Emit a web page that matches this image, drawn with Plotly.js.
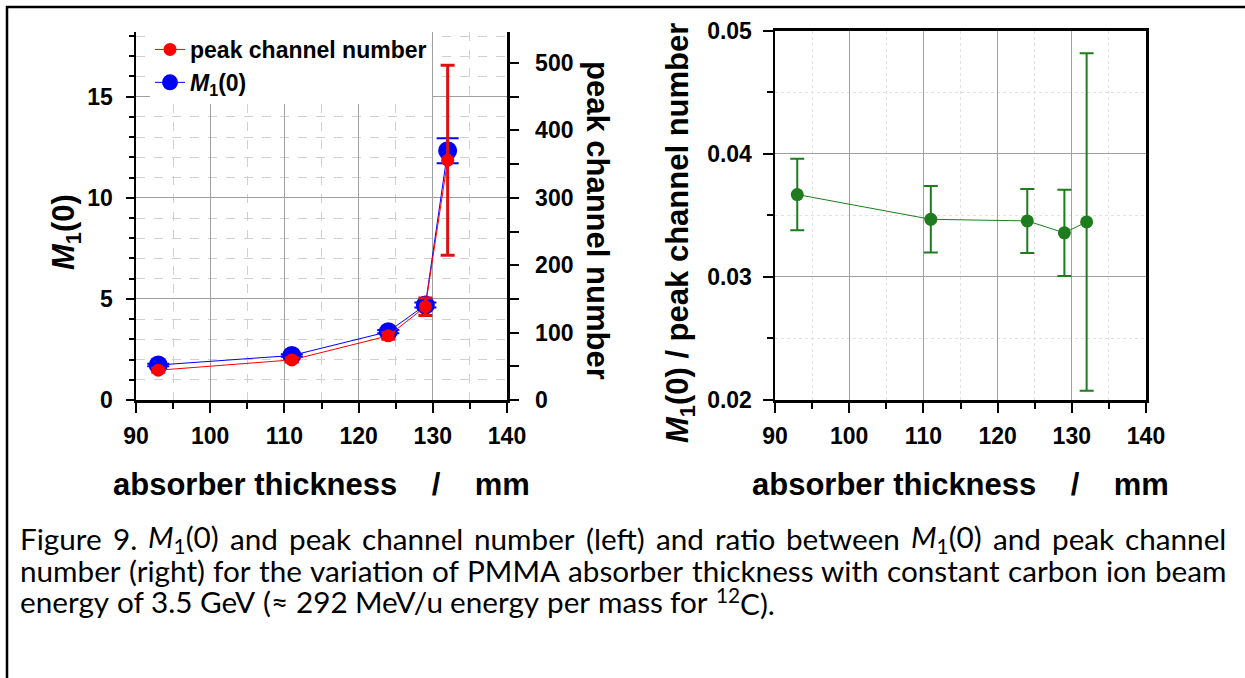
<!DOCTYPE html>
<html>
<head>
<meta charset="utf-8">
<script src="https://cdn.plot.ly/plotly-3.0.1.min.js"></script>
<style>html,body{margin:0;padding:0;background:#fff;}#chart{width:1245px;height:678px;}</style>
</head>
<body>
<div id="chart"></div>
<script>
// ---------- data ----------
const thickness = [93, 111, 124, 129, 132];               // absorber thickness / mm
const m1 = [1.73, 2.2, 3.38, 4.70, 12.33];                // M1(0), left axis
const m1Err = [0.06, 0.06, 0.08, 0.12, 0.62];
const peakChannel = [44.2, 59.5, 95.2, 138.4, 355.7];     // peak channel number, right axis
const peakErr = [3, 3, 5, 13, 141];
const ratio = [0.03668, 0.03467, 0.03454, 0.03357, 0.03446]; // M1(0)/peak channel number
const ratioErr = [0.0029, 0.0027, 0.0026, 0.0035, 0.0137];

const xTickVals = [90, 100, 110, 120, 130, 140];
const legendNames = ['peak channel number', '<i>M</i><sub>1</sub>(0)'];

const captionLines = [
  {words: ['Figure', '9.', '<i>M</i><sub>1</sub>(0)', 'and', 'peak', 'channel', 'number', '(left)', 'and', 'ratio', 'between', '<i>M</i><sub>1</sub>(0)', 'and', 'peak', 'channel'], justify: true},
  {words: ['number', '(right)', 'for', 'the', 'variation', 'of', 'PMMA', 'absorber', 'thickness', 'with', 'constant', 'carbon', 'ion', 'beam'], justify: true},
  {words: ['energy', 'of', '3.5', 'GeV', '(\u2248', '292', 'MeV/u', 'energy', 'per', 'mass', 'for', '<sup>12</sup>C).'], justify: false}
];

// ---------- layout helpers ----------
const W = 1245, H = 678;
const px = x => x / W;
const py = y => 1 - y / H;

const FONT = 'Liberation Sans';
const tickFont = {family: FONT, size: 23, color: '#000', weight: 'bold'};
const titleFont = {family: FONT, size: 31, color: '#000', weight: 'bold'};
const GREEN = '#1e7b1e';

const traces = [
  {
    x: thickness, y: peakChannel, xaxis: 'x', yaxis: 'y2', type: 'scatter', mode: 'lines+markers',
    name: legendNames[0],
    line: {color: '#ff0000', width: 1},
    marker: {color: '#ff0000', size: 13},
    error_y: {type: 'data', array: peakErr, visible: true, color: '#e01010', thickness: 3, width: 7}
  },
  {
    x: thickness, y: m1, xaxis: 'x', yaxis: 'y', type: 'scatter', mode: 'lines+markers',
    name: legendNames[1],
    line: {color: '#0000ff', width: 1},
    marker: {color: '#0000ff', size: 19},
    error_y: {type: 'data', array: m1Err, visible: true, color: '#0000ff', thickness: 2, width: 11}
  },
  {
    x: thickness, y: ratio, xaxis: 'x2', yaxis: 'y3', type: 'scatter', mode: 'lines+markers',
    showlegend: false,
    line: {color: GREEN, width: 1},
    marker: {color: GREEN, size: 13},
    error_y: {type: 'data', array: ratioErr, visible: true, color: GREEN, thickness: 2, width: 7}
  }
];

const baseX = {
  range: [90, 140], tickvals: xTickVals, ticks: 'outside', ticklen: 10, tickwidth: 2, tickcolor: '#000',
  showline: true, linecolor: '#000', linewidth: 2.5, zeroline: false,
  showgrid: true, gridcolor: '#a0a0a0', gridwidth: 1,
  tickfont: tickFont, ticklabelstandoff: 4,
  minor: {dtick: 5, tick0: 90, ticks: 'outside', ticklen: 6, tickwidth: 2, tickcolor: '#000', showgrid: true, gridcolor: '#d0d0d0', griddash: 'dash', gridwidth: 1}
};

const layout = {
  width: W, height: H,
  font: {family: FONT},
  margin: {l: 0, r: 0, t: 0, b: 0, pad: 0},
  paper_bgcolor: '#fff', plot_bgcolor: 'rgba(0,0,0,0)',
  showlegend: true,
  legend: {
    x: px(150), y: py(28), xanchor: 'left', yanchor: 'top',
    bgcolor: '#fff', borderwidth: 0, tracegroupgap: 0,
    font: {family: FONT, size: 23, color: '#000', weight: 'bold'}
  },
  xaxis: Object.assign({}, baseX, {domain: [px(136), px(507)], anchor: 'y'}),
  yaxis: {
    domain: [py(400), py(32)], anchor: 'x', range: [0, 18.2], dtick: 5, tick0: 0,
    ticks: 'outside', ticklen: 8, tickwidth: 2, tickcolor: '#000',
    showline: true, linecolor: '#000', linewidth: 2.5, zeroline: false,
    showgrid: true, gridcolor: '#a0a0a0', gridwidth: 1,
    tickfont: tickFont, ticklabelstandoff: 8,
    minor: {dtick: 1, tick0: 0, ticks: 'outside', ticklen: 5, tickwidth: 2, tickcolor: '#000', showgrid: true, gridcolor: '#d0d0d0', griddash: 'dash', gridwidth: 1}
  },
  yaxis2: {
    overlaying: 'y', side: 'right', anchor: 'x', range: [0, 546], dtick: 100, tick0: 0,
    ticks: 'outside', ticklen: 9, tickwidth: 2, tickcolor: '#000',
    showline: true, linecolor: '#000', linewidth: 2.5, zeroline: false, showgrid: false,
    tickfont: tickFont, ticklabelstandoff: 12,
    minor: {dtick: 50, tick0: 0, ticks: 'outside', ticklen: 9, tickwidth: 2, tickcolor: '#000', showgrid: false}
  },
  xaxis2: Object.assign({}, baseX, {
    domain: [px(775), px(1146)], anchor: 'y3', mirror: true,
    minor: {dtick: 5, tick0: 90, ticks: 'outside', ticklen: 6, tickwidth: 2, tickcolor: '#000', showgrid: true, gridcolor: '#e2e2e2', griddash: 'dot', gridwidth: 1}
  }),
  yaxis3: {
    domain: [py(400), py(30.5)], anchor: 'x2', range: [0.02, 0.05], dtick: 0.01, tick0: 0.02, tickformat: '.2f',
    ticks: 'outside', ticklen: 10, tickwidth: 2, tickcolor: '#000',
    showline: true, linecolor: '#000', linewidth: 2.5, zeroline: false, mirror: true,
    showgrid: true, gridcolor: '#a0a0a0', gridwidth: 1,
    tickfont: tickFont, ticklabelstandoff: 6,
    minor: {dtick: 0.005, tick0: 0.02, ticks: 'outside', ticklen: 6, tickwidth: 2, tickcolor: '#000', showgrid: true, gridcolor: '#e2e2e2', griddash: 'dot', gridwidth: 1}
  },
  shapes: [
    {type: 'rect', xref: 'paper', yref: 'paper', x0: px(7), y0: py(7), x1: 1.02, y1: -0.05,
     line: {color: '#000', width: 2.5}, fillcolor: 'rgba(0,0,0,0)'}
  ],
  annotations: [
    {text: 'absorber thickness\u00a0\u00a0\u00a0\u00a0/\u00a0\u00a0\u00a0\u00a0mm', xref: 'paper', yref: 'paper',
     x: px(321), y: py(484), xanchor: 'center', yanchor: 'middle', showarrow: false, font: titleFont},
    {text: 'absorber thickness\u00a0\u00a0\u00a0\u00a0/\u00a0\u00a0\u00a0\u00a0mm', xref: 'paper', yref: 'paper',
     x: px(960), y: py(484), xanchor: 'center', yanchor: 'middle', showarrow: false, font: titleFont},
    {text: '<i>M</i><sub>1</sub>(0)', xref: 'paper', yref: 'paper', textangle: -90,
     x: px(66), y: py(232), xanchor: 'center', yanchor: 'middle', showarrow: false, font: titleFont},
    {text: 'peak channel number', xref: 'paper', yref: 'paper', textangle: 90,
     x: px(598), y: py(220), xanchor: 'center', yanchor: 'middle', showarrow: false, font: titleFont},
    {text: '<i>M</i><sub>1</sub>(0) / peak channel number', xref: 'paper', yref: 'paper', textangle: -90,
     x: px(680), y: py(233), xanchor: 'center', yanchor: 'middle', showarrow: false, font: titleFont}
  ]
};

// ---------- caption, laid out word by word (justified like the reference) ----------
const CAP_FAMILY = 'Lato';
const canvas = document.createElement('canvas');
const ctx = canvas.getContext('2d');
function measurePlain(s, size, italic) {
  ctx.font = (italic ? 'italic ' : '') + size + 'px ' + CAP_FAMILY;
  return ctx.measureText(s).width;
}
function measureWord(w, size) {
  if (w.indexOf('<sub>1</sub>') >= 0) {
    return measurePlain('M', size, true) + measurePlain('1', size * 0.7) + measurePlain('(0)', size);
  }
  if (w.indexOf('<sup>12</sup>') >= 0) {
    return measurePlain('12', size * 0.7) + measurePlain('C).', size);
  }
  return measurePlain(w, size);
}
function lineWidth(words, size) {
  let t = 0;
  words.forEach(w => t += measureWord(w, size));
  return t + (words.length - 1) * measurePlain(' ', size);
}
// font size chosen so that the last (unjustified) line has the reference width
let capSize = 100 * 755 / lineWidth(captionLines[2].words, 100);
capSize = Math.max(18, Math.min(30, capSize));
const capLeft = 20, capRight = 1226;
const capYs = [541, 573, 604];
captionLines.forEach((ln, i) => {
  const widths = ln.words.map(w => measureWord(w, capSize));
  const total = widths.reduce((a, b) => a + b, 0);
  const gap = ln.justify ? (capRight - capLeft - total) / (ln.words.length - 1) : measurePlain(' ', capSize);
  let xpos = capLeft;
  ln.words.forEach((w, j) => {
    layout.annotations.push({
      text: w, xref: 'paper', yref: 'paper', x: px(xpos - 1), y: py(capYs[i] - 3),
      xanchor: 'left', yanchor: 'middle', showarrow: false, borderpad: 0,
      font: {family: CAP_FAMILY, size: capSize, color: '#000'}
    });
    xpos += widths[j] + gap;
  });
});

Plotly.newPlot('chart', traces, layout, {displayModeBar: false, staticPlot: true});
</script>
</body>
</html>
